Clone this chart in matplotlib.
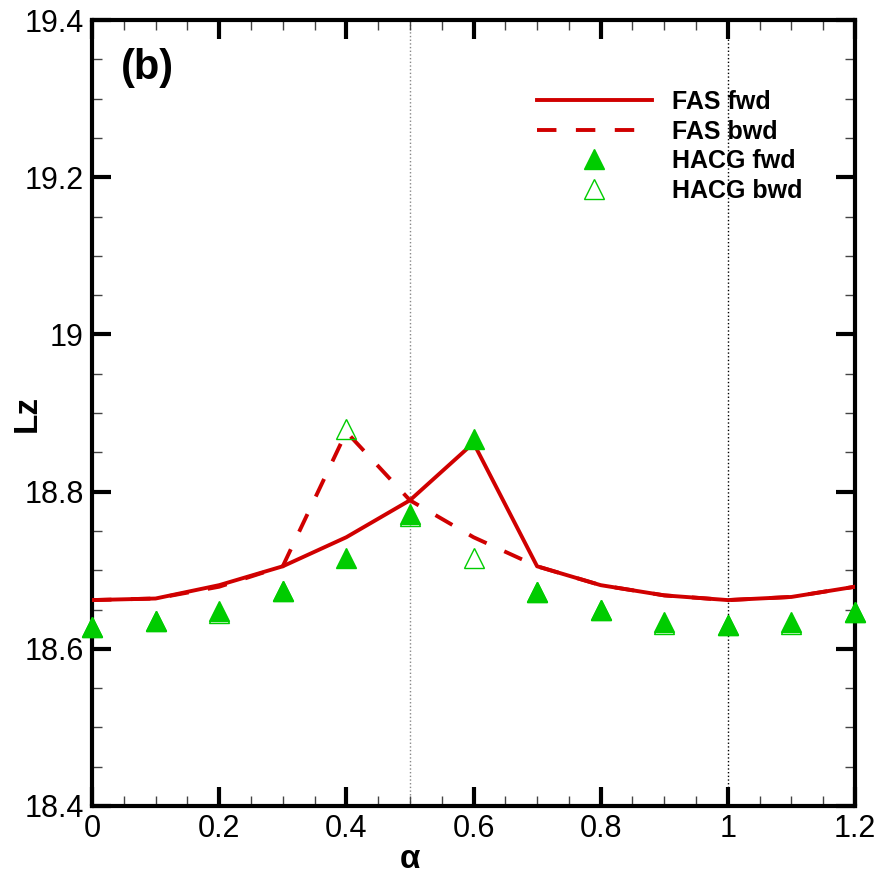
import matplotlib.pyplot as plt
from matplotlib.ticker import MultipleLocator, FuncFormatter

# data
alpha = [0.0, 0.1, 0.2, 0.3, 0.4, 0.5, 0.6, 0.7, 0.8, 0.9, 1.0, 1.1, 1.2]
fas_fwd = [18.662, 18.664, 18.681, 18.705, 18.742, 18.789, 18.862, 18.705, 18.681, 18.668, 18.662, 18.666, 18.679]
fas_bwd = [18.662, 18.664, 18.679, 18.705, 18.876, 18.789, 18.742, 18.705, 18.681, 18.668, 18.662, 18.666, 18.679]
hacg_fwd = [18.628, 18.636, 18.648, 18.673, 18.716, 18.771, 18.867, 18.672, 18.649, 18.634, 18.630, 18.634, 18.647]
hacg_bwd = [18.628, 18.636, 18.646, 18.673, 18.880, 18.769, 18.715, 18.672, 18.649, 18.632, 18.630, 18.632, 18.647]

red = '#d00000'
green = '#00cc00'

plt.rcParams['font.family'] = ['Liberation Sans', 'DejaVu Sans']

fig = plt.figure(figsize=(8.83, 8.77), dpi=100)
ax = fig.add_axes([0.1042, 0.081, 0.8641, 0.896])

# dotted reference lines
ax.axvline(0.5, color='#888888', lw=1.0, linestyle=':', zorder=1)
ax.axvline(1.0, color='black', lw=1.0, linestyle=':', zorder=1)

ax.plot(alpha, fas_fwd, color=red, lw=2.8, label='FAS fwd', zorder=3)
ax.plot(alpha, fas_bwd, color=red, lw=2.8, linestyle=(0, (5, 5)), label='FAS bwd', zorder=3)
ax.plot(alpha, hacg_fwd, linestyle='none', marker='^', ms=14, color=green,
        mec=green, label='HACG fwd', zorder=4, clip_on=False)
ax.plot(alpha, hacg_bwd, linestyle='none', marker='^', ms=14, mfc='none',
        mec=green, mew=1.0, label='HACG bwd', zorder=4, clip_on=False)

ax.set_xlim(0, 1.2)
ax.set_ylim(18.4, 19.4)
ax.xaxis.set_major_locator(MultipleLocator(0.2))
ax.xaxis.set_minor_locator(MultipleLocator(0.05))
ax.yaxis.set_major_locator(MultipleLocator(0.2))
ax.yaxis.set_minor_locator(MultipleLocator(0.05))
fmt = FuncFormatter(lambda v, p: '%g' % round(v, 2))
ax.xaxis.set_major_formatter(fmt)
ax.yaxis.set_major_formatter(fmt)

for s in ax.spines.values():
    s.set_linewidth(3)
ax.tick_params(which='major', direction='in', length=14, width=3, labelsize=22,
               top=True, right=True, pad=6)
ax.tick_params(which='minor', direction='in', length=7, width=1, color='#444444',
               top=True, right=True)

ax.set_xlabel('α', fontsize=24, fontweight='bold')
ax.set_ylabel('Lz', fontsize=24, fontweight='bold')
ax.xaxis.set_label_coords(0.417, -0.049)
ax.yaxis.set_label_coords(-0.064, 0.5)

ax.text(0.038, 0.925, '(b)', transform=ax.transAxes, fontsize=30, fontweight='bold')

leg = ax.legend(loc='upper left', bbox_to_anchor=(0.583, 0.911), frameon=False,
                prop={'weight': 'bold', 'size': 18}, handlelength=4.6,
                handletextpad=0.8, labelspacing=0.22, borderaxespad=0, borderpad=0)

fig.savefig('out.png', dpi=100)
